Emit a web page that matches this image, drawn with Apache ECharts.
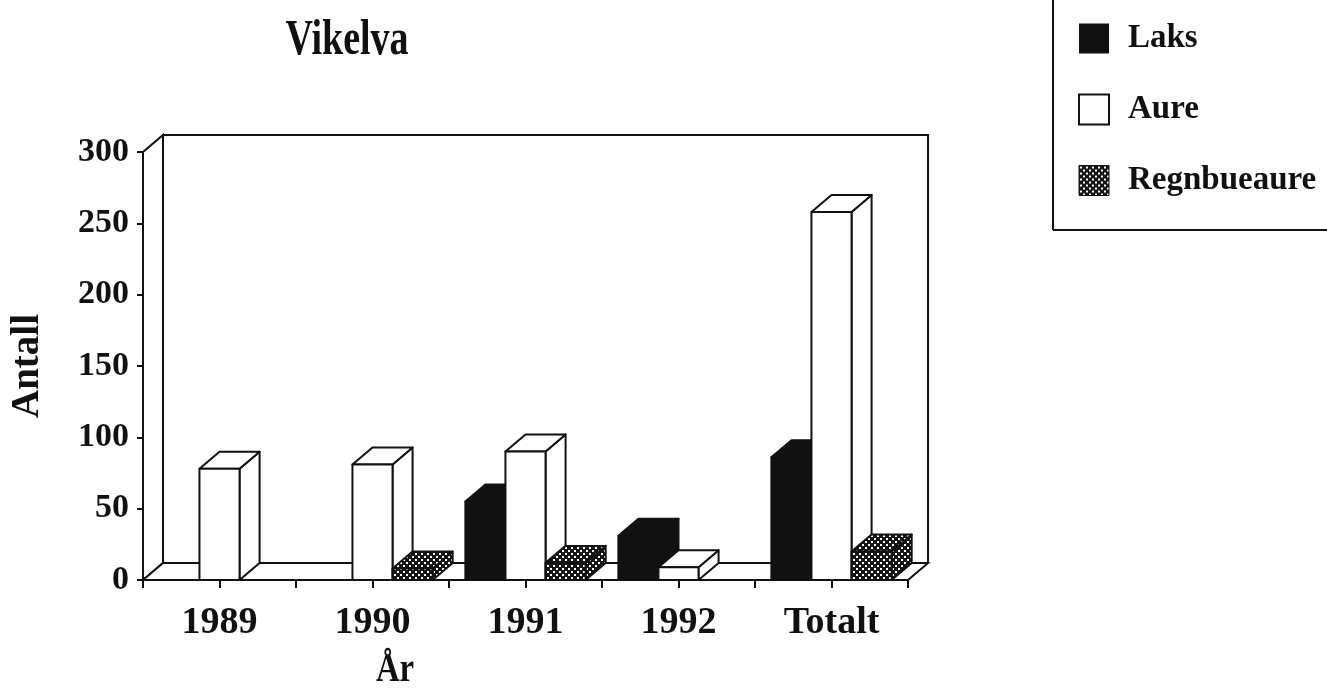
<!DOCTYPE html>
<html>
<head>
<meta charset="utf-8">
<style>
    html, body { margin: 0; padding: 0; background: #fff; }
    #chart { width: 1327px; height: 699px; }
</style>
</head>
<body>
<div id="chart"></div>
<script src="https://cdn.jsdelivr.net/npm/echarts@6/dist/echarts.min.js"></script>
<script>
    // data
    var categories = ['1989', '1990', '1991', '1992', 'Totalt'];
    var laks = [0, 0, 55, 31, 86];
    var aure = [78, 81, 90, 9, 258];
    var regnbueaure = [0, 8, 12, 0, 20];
    var yTicks = [0, 50, 100, 150, 200, 250, 300];

    var FONT = '"Liberation Serif", "Times New Roman", serif';
    var INK = '#111';

    // dotted fill for Regnbueaure
    function makeDots() {
        var cv = document.createElement('canvas');
        cv.width = 6;
        cv.height = 6;
        var ctx = cv.getContext('2d');
        ctx.fillStyle = '#161616';
        ctx.fillRect(0, 0, 6, 6);
        ctx.fillStyle = '#fff';
        ctx.fillRect(1, 1, 2, 2);
        ctx.fillRect(4, 4, 2, 2);
        return cv;
    }
    var dots = { image: makeDots(), repeat: 'repeat' };

    var DEPTH_Y = 17;

    // 3D-looking box: front, top, right side
    function boxRenderer(slot, fill) {
        return function (params, api) {
            var v = api.value(1);
            if (!v) return;
            var top = api.coord([api.value(0), v]);
            var base = api.coord([api.value(0), 0]);
            var band = api.size([1, 0])[0];
            var w = band * 0.262;
            var dx = band * 0.131;
            var dy = DEPTH_Y;
            var l = top[0] + (slot - 1.5) * w;
            var r = l + w;
            var t = top[1];
            var b = base[1];
            var st = { fill: fill, stroke: INK, lineWidth: 2, lineJoin: 'round' };
            return {
                type: 'group',
                children: [
                    { type: 'polygon', shape: { points: [[r, t], [r + dx, t - dy], [r + dx, b - dy], [r, b]] }, style: st },
                    { type: 'polygon', shape: { points: [[l, t], [l + dx, t - dy], [r + dx, t - dy], [r, t]] }, style: st },
                    { type: 'polygon', shape: { points: [[l, b], [l, t], [r, t], [r, b]] }, style: st }
                ]
            };
        };
    }

    // walls and floor of the plot box
    function frameRenderer(params, api) {
        var cs = params.coordSys;
        var x0 = cs.x, x1 = cs.x + cs.width, y0 = cs.y, y1 = cs.y + cs.height;
        var band = api.size([1, 0])[0];
        var dx = band * 0.131, dy = DEPTH_Y;
        var st = { fill: '#fff', stroke: INK, lineWidth: 2 };
        return {
            type: 'group',
            children: [
                { type: 'polygon', shape: { points: [[x0, y1], [x0, y0], [x0 + dx, y0 - dy], [x0 + dx, y1 - dy]] }, style: st },
                { type: 'rect', shape: { x: x0 + dx, y: y0 - dy, width: x1 - x0, height: y1 - y0 }, style: st },
                { type: 'polygon', shape: { points: [[x0, y1], [x1, y1], [x1 + dx, y1 - dy], [x0 + dx, y1 - dy]] }, style: st }
            ]
        };
    }

    function pairs(arr) {
        return arr.map(function (v, i) { return [i, v]; });
    }

    var chart = echarts.init(document.getElementById('chart'));

    var option = {
        backgroundColor: '#fff',
        animation: false,
        grid: { left: 143, right: 419, top: 152, bottom: 119, containLabel: false, outerBoundsMode: 'none' },
        legend: {
            orient: 'vertical',
            left: 1078,
            top: 22,
            padding: 0,
            itemWidth: 30,
            itemHeight: 30,
            itemGap: 38,
            textStyle: { fontFamily: FONT, fontWeight: 'bold', fontSize: 33, color: INK, padding: [6, 0, 0, 14] },
            data: [
                { name: 'Laks', icon: 'rect', itemStyle: { color: INK, borderWidth: 0 } },
                { name: 'Aure', icon: 'rect', itemStyle: { color: '#fff', borderColor: INK, borderWidth: 2 } },
                { name: 'Regnbueaure', icon: 'rect', itemStyle: { color: dots, borderColor: INK, borderWidth: 1 } }
            ]
        },
        xAxis: [
            {
                type: 'category',
                position: 'bottom',
                data: categories,
                axisLine: { lineStyle: { color: INK, width: 2 } },
                axisTick: { show: true, interval: 0, length: 8, lineStyle: { color: INK, width: 2 } },
                axisLabel: { interval: 0, margin: 24, color: INK, fontFamily: FONT, fontWeight: 'bold', fontSize: 38 }
            },
            {
                type: 'category',
                position: 'bottom',
                data: categories,
                axisLine: { show: false },
                axisTick: { show: true, alignWithLabel: true, interval: 0, length: 8, lineStyle: { color: INK, width: 2 } },
                axisLabel: { show: false }
            }
        ],
        yAxis: {
            type: 'value',
            min: yTicks[0],
            max: yTicks[yTicks.length - 1],
            interval: 50,
            name: 'Antall',
            nameLocation: 'middle',
            nameRotate: 90,
            nameGap: 96,
            nameTextStyle: { fontFamily: FONT, fontWeight: 'bold', fontSize: 39, color: INK },
            axisLine: { show: true, lineStyle: { color: INK, width: 2 } },
            axisTick: { show: true, length: 6, lineStyle: { color: INK, width: 2 } },
            splitLine: { show: false },
            axisLabel: { margin: 14, color: INK, fontFamily: FONT, fontWeight: 'bold', fontSize: 34 }
        },
        graphic: [
            {
                type: 'text', x: 347, y: 41, scaleX: 0.76,
                style: { text: 'Vikelva', fontFamily: FONT, fontWeight: 'bold', fontSize: 50, fill: INK, textAlign: 'center', textVerticalAlign: 'middle' }
            },
            {
                type: 'text', x: 395, y: 671, scaleX: 0.82,
                style: { text: 'År', fontFamily: FONT, fontWeight: 'bold', fontSize: 40, fill: INK, textAlign: 'center', textVerticalAlign: 'middle' }
            },
            { type: 'line', shape: { x1: 1053, y1: 0, x2: 1053, y2: 230 }, style: { stroke: INK, lineWidth: 2 } },
            { type: 'line', shape: { x1: 1053, y1: 230, x2: 1327, y2: 230 }, style: { stroke: INK, lineWidth: 2 } }
        ],
        series: [
            { type: 'custom', name: 'frame', silent: true, z: 1, renderItem: frameRenderer, data: [[0, 0]], encode: { x: 0, y: 1 } },
            { type: 'custom', name: 'Laks', z: 3, renderItem: boxRenderer(0, INK), data: pairs(laks), encode: { x: 0, y: 1 }, itemStyle: { color: INK } },
            { type: 'custom', name: 'Aure', z: 3, renderItem: boxRenderer(1, '#fff'), data: pairs(aure), encode: { x: 0, y: 1 }, itemStyle: { color: '#fff' } },
            { type: 'custom', name: 'Regnbueaure', z: 3, renderItem: boxRenderer(2, dots), data: pairs(regnbueaure), encode: { x: 0, y: 1 }, itemStyle: { color: dots } }
        ]
    };

    chart.setOption(option);
</script>
</body>
</html>
